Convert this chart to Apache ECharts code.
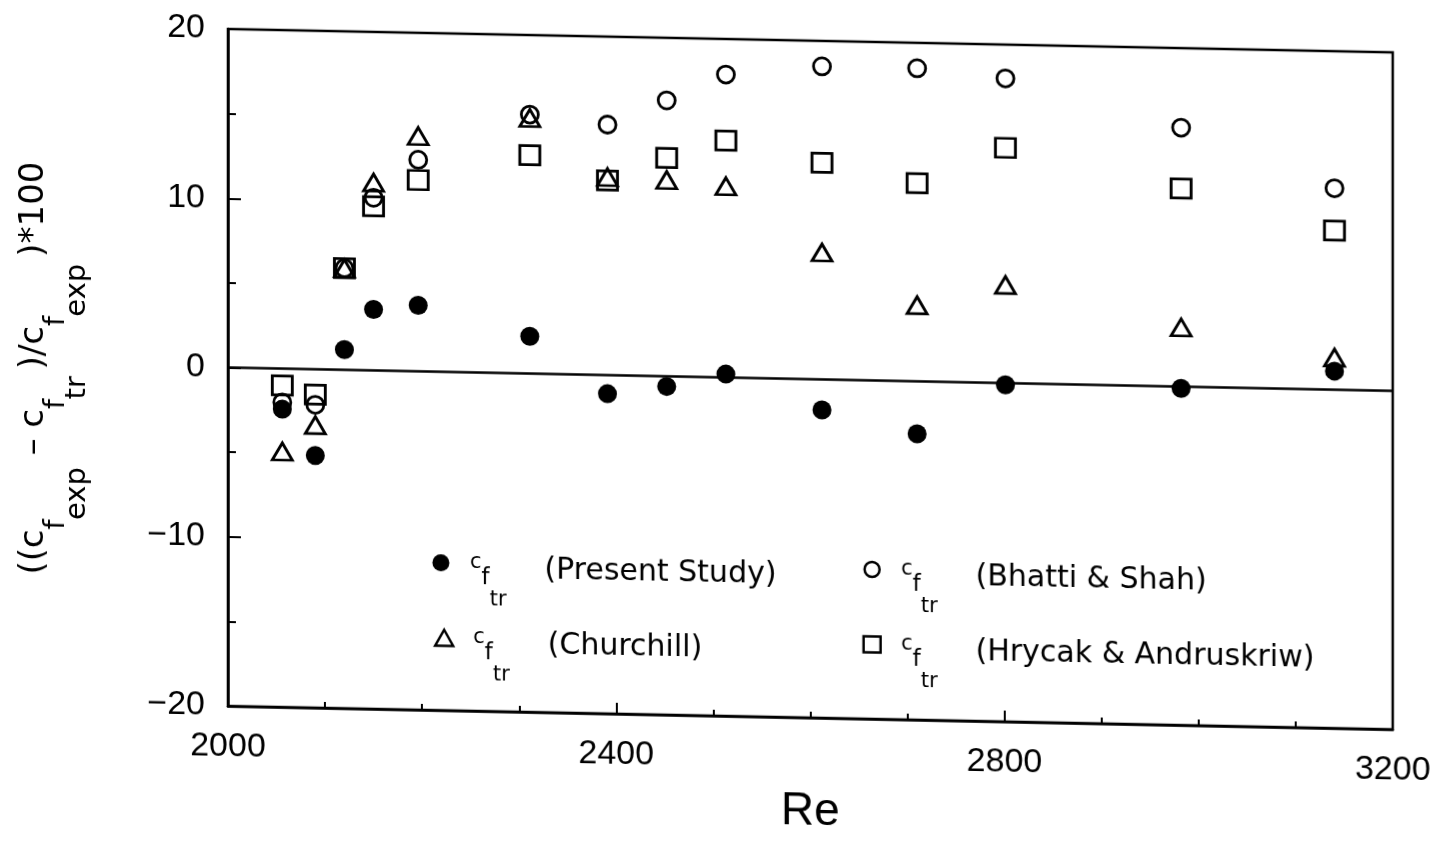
<!DOCTYPE html>
<html>
<head>
<meta charset="utf-8">
<script src="https://cdn.jsdelivr.net/npm/echarts@6/dist/echarts.min.js"></script>
<style>
  html, body { margin: 0; padding: 0; background: #fff; }
  /* the printed plot is slightly slanted: the right side sits lower than the left */
  #chart { width: 1437px; height: 842px; transform: skewY(1.15deg); transform-origin: 228px 0; }
</style>
</head>
<body>
<div id="chart"></div>
<script>
// Reynolds numbers of the measured transition points
const reynolds = [2056, 2090, 2120, 2150, 2196, 2311, 2391, 2452, 2513, 2612, 2710, 2801, 2982, 3140];

// Percentage deviation ((cf_exp - cf_tr) / cf_exp) * 100 for each correlation
const presentStudy = [-2.4, -5.1, 1.2, 3.6, 3.9, 2.2, -1.1, -0.6, 0.2, -1.8, -3.1, -0.1, -0.1, 1.1];
const bhattiShah   = [-2.0, -2.1, 6.0, 10.2, 12.5, 15.3, 14.8, 16.3, 17.9, 18.5, 18.5, 18.0, 15.3, 11.9];
const churchill    = [-4.9, -3.3, 6.0, 11.1, 13.9, 15.1, 11.7, 11.6, 11.3, 7.5, 4.5, 5.8, 3.5, 1.9];
const hrycak       = [-1.0, -1.5, 6.0, 9.7, 11.3, 12.9, 11.5, 12.9, 14.0, 12.8, 11.7, 13.9, 11.7, 9.4];

// Axis tick labels
const xTicks = [2000, 2400, 2800, 3200];
const yTicks = [-20, -10, 0, 10, 20];

const INK = '#000';
const FONT_LABEL = 'Liberation Sans';
const FONT_TEXT = 'DejaVu Sans';

const pairs = vals => reynolds.map((re, i) => [re, vals[i]]);

const outline = { color: 'rgba(0,0,0,0)', borderColor: INK, borderWidth: 2.8, opacity: 1 };

// c_f_tr label with stepped subscripts, followed by the source name
function legendItem(name, cx, cy, w, h) {
  const tokenBase = { fontFamily: FONT_TEXT, color: INK, verticalAlign: 'top' };
  const lead = 29 - (w / 2 + 5);
  return {
    data: [name],
    left: cx - w / 2,
    top: cy - 10,
    padding: 0,
    itemWidth: w,
    itemHeight: h,
    selectedMode: false,
    itemStyle: { borderWidth: 2.5, opacity: 1 },
    formatter: n => '{c|c}{f|f}{t|tr}{n|(' + n + ')}',
    textStyle: {
      fontFamily: FONT_TEXT,
      color: INK,
      rich: {
        c: Object.assign({}, tokenBase, { fontSize: 21, padding: [35, 0, 0, lead] }),
        f: Object.assign({}, tokenBase, { fontSize: 23, padding: [50, 0, 0, 0] }),
        t: Object.assign({}, tokenBase, { fontSize: 21, padding: [72, 0, 0, 0] }),
        n: Object.assign({}, tokenBase, { fontSize: 30, padding: [37, 0, 0, 38] })
      }
    }
  };
}

const chart = echarts.init(document.getElementById('chart'), null, { renderer: 'canvas' });

chart.setOption({
  backgroundColor: '#fff',
  animation: false,
  grid: {
    left: 228, top: 29, width: 1165, height: 677,
    show: true, borderColor: INK, borderWidth: 2.5, backgroundColor: 'transparent'
  },
  xAxis: {
    type: 'value',
    min: xTicks[0],
    max: xTicks[xTicks.length - 1],
    interval: xTicks[1] - xTicks[0],
    name: 'Re',
    nameLocation: 'middle',
    nameGap: 71,
    nameTextStyle: { fontFamily: FONT_LABEL, fontSize: 46, color: INK },
    axisLine: { show: true, onZero: false, lineStyle: { color: INK, width: 2.5 } },
    axisTick: { show: true, inside: true, length: 11, lineStyle: { color: INK, width: 2 } },
    minorTick: { show: true, splitNumber: 4, length: 6, lineStyle: { color: INK, width: 2 } },
    splitLine: { show: false },
    axisLabel: {
      margin: 24,
      fontFamily: FONT_LABEL, fontSize: 34, color: INK,
      formatter: v => String(v)
    }
  },
  yAxis: {
    type: 'value',
    min: yTicks[0],
    max: yTicks[yTicks.length - 1],
    interval: yTicks[1] - yTicks[0],
    axisLine: { show: true, onZero: false, lineStyle: { color: INK, width: 2.5 } },
    axisTick: { show: true, inside: true, length: 13, lineStyle: { color: INK, width: 2 } },
    minorTick: { show: true, splitNumber: 2, length: 8, lineStyle: { color: INK, width: 2 } },
    splitLine: { show: false },
    axisLabel: {
      margin: 23,
      fontFamily: FONT_LABEL, fontSize: 34, color: INK,
      formatter: v => String(v).replace('-', '\u2212')
    }
  },
  legend: [
    legendItem('Present Study', 441, 557, 17, 17),
    legendItem('Churchill', 443, 632, 18, 16),
    legendItem('Bhatti & Shah', 871, 555, 15, 15),
    legendItem('Hrycak & Andruskriw', 871, 630, 17, 16)
  ],
  graphic: [{
    type: 'text',
    x: 17,
    y: 372,
    rotation: Math.PI / 2,
    style: {
      text: '{m|((c}{s|f}{ss|exp}{m| \u2013 c}{s|f}{ss|tr}{p|)/c}{s|f}{ss|exp}{p|)*100}',
      align: 'center',
      verticalAlign: 'top',
      fill: INK,
      rich: {
        m:  { fontFamily: FONT_TEXT, fontSize: 34, fill: INK, verticalAlign: 'top' },
        p:  { fontFamily: FONT_TEXT, fontSize: 34, fill: INK, verticalAlign: 'top', padding: [0, 0, 0, 6] },
        s:  { fontFamily: FONT_TEXT, fontSize: 29, fill: INK, verticalAlign: 'top', padding: [25, 0, 0, 0] },
        ss: { fontFamily: FONT_TEXT, fontSize: 29, fill: INK, verticalAlign: 'top', padding: [46, 0, 0, 0] }
      }
    }
  }],
  series: [
    {
      name: 'Present Study',
      type: 'scatter',
      symbol: 'circle',
      symbolSize: 19,
      itemStyle: { color: INK, opacity: 1 },
      data: pairs(presentStudy),
      z: 4,
      markLine: {
        silent: true,
        symbol: ['none', 'none'],
        label: { show: false },
        lineStyle: { color: INK, width: 2.5, type: 'solid', opacity: 1 },
        data: [{ yAxis: 0 }]
      }
    },
    {
      name: 'Churchill',
      type: 'scatter',
      symbol: 'triangle',
      symbolSize: [20, 17],
      itemStyle: outline,
      data: pairs(churchill)
    },
    {
      name: 'Bhatti & Shah',
      type: 'scatter',
      symbol: 'circle',
      symbolSize: 17,
      itemStyle: outline,
      data: pairs(bhattiShah)
    },
    {
      name: 'Hrycak & Andruskriw',
      type: 'scatter',
      symbol: 'rect',
      symbolSize: [20, 19],
      itemStyle: outline,
      data: pairs(hrycak)
    }
  ]
});
</script>
</body>
</html>
